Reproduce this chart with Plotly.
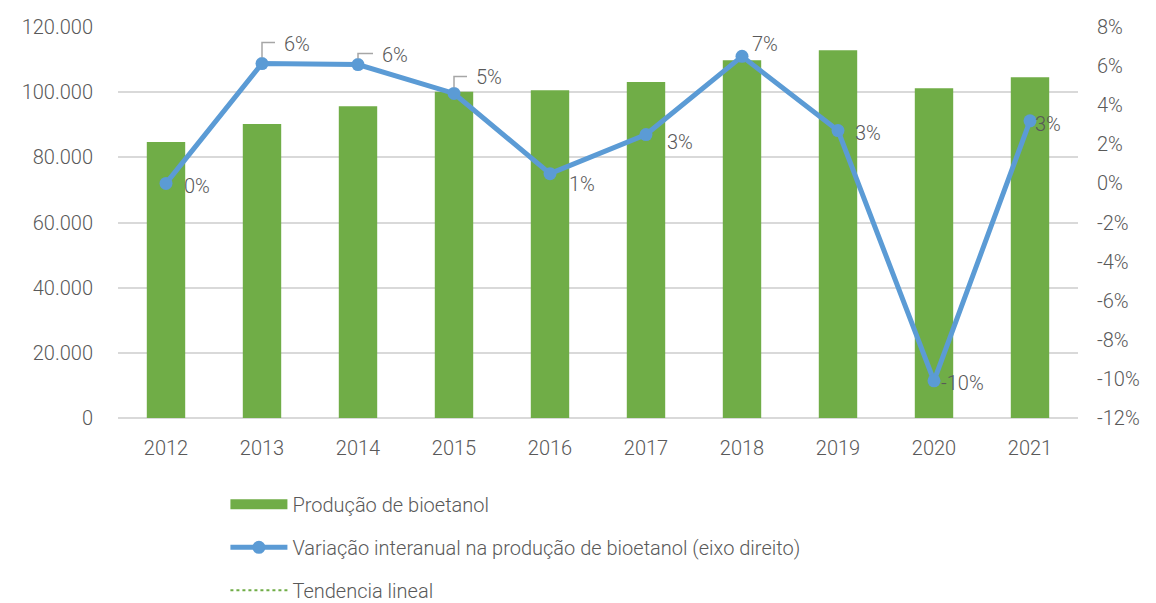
import math
import plotly.graph_objects as go

years = ["2012", "2013", "2014", "2015", "2016", "2017", "2018", "2019", "2020", "2021"]
production = [84700, 90200, 95700, 100100, 100600, 103100, 109800, 112900, 101200, 104600]
variation = [0.0, 6.13, 6.08, 4.6, 0.5, 2.5, 6.5, 2.7, -10.1, 3.2]
right_ticks = [-12, -10, -8, -6, -4, -2, 0, 2, 4, 6, 8]

# label offsets (pixels) and whether label has a leader line
label_dx = [16, 20, 22, 20, 17, 19, 8, 15, 5, 3]
label_dy = [-3, 20, 10, 16, -10, -7, 12, -2, -2, -3]
leader = [False, True, True, True, False, False, False, False, False, False]

FONT = "Roboto"
GREY = "#595959"
GREEN = "#70AD47"
BLUE = "#5B9BD5"

fig = go.Figure()
fig.add_trace(go.Bar(
    x=years, y=production, name="Produção de bioetanol",
    marker=dict(color=GREEN, line=dict(width=0)), width=0.4,
    showlegend=False, legendgroup="a",
))
# legend swatch for the bars (wide rectangle like the original)
fig.add_trace(go.Scatter(
    x=[None], y=[None], name="Produção de bioetanol", mode="lines",
    line=dict(color=GREEN, width=16), legendgroup="a",
))
fig.add_trace(go.Scatter(
    x=years, y=variation, name="Variação interanual na produção de bioetanol (eixo direito)",
    yaxis="y2", mode="lines+markers",
    line=dict(color=BLUE, width=5),
    marker=dict(color=BLUE, size=13),
    legendgroup="b",
))
fig.add_trace(go.Scatter(
    x=[None], y=[None], name="Tendencia lineal", mode="lines",
    line=dict(color=GREEN, width=2, dash="dot"),
    legendgroup="c",
))

annotations = []
shapes = []
for i, (v, dx, dy, ld) in enumerate(zip(variation, label_dx, label_dy, leader)):
    txt = f"{math.floor(v + 0.5):.0f}%"
    annotations.append(dict(
        x=i, y=v, xref="x", yref="y2", text=txt, showarrow=False,
        xanchor="left", yanchor="middle", xshift=dx, yshift=dy,
        font=dict(family=FONT, size=20, color=GREY, weight=300),
    ))
    if ld:
        shapes.append(dict(
            type="path", xref="x", yref="y2", xsizemode="pixel", ysizemode="pixel",
            xanchor=i, yanchor=v,
            path=f"M 0,6 L 0,{dy+1} L {dx-7},{dy+1}",
            line=dict(color="#A6A6A6", width=1.5),
        ))

fig.update_layout(
    width=1156, height=603,
    margin=dict(l=118, r=78, t=27, b=185, autoexpand=False),
    plot_bgcolor="white", paper_bgcolor="white",
    separators=",.",
    font=dict(family=FONT, size=19, color=GREY, weight=300),
    showlegend=True,
    legend=dict(
        orientation="v", xref="container", yref="container",
        x=0.195, y=0.196, xanchor="left", yanchor="top",
        font=dict(family=FONT, size=20, color=GREY, weight=300),
        tracegroupgap=14, traceorder="grouped", itemwidth=57,
    ),
    xaxis=dict(
        type="category", automargin=False, range=[-0.5, len(years) - 0.5],
        showgrid=False, showline=False, ticks="",
        tickfont=dict(size=20), ticklabelstandoff=16,
    ),
    yaxis=dict(
        range=[0, 120000], dtick=20000, tickformat=",d", automargin=False,
        showgrid=True, gridcolor="#D9D9D9", gridwidth=1.5,
        zeroline=True, zerolinecolor="#D9D9D9", zerolinewidth=1.5,
        showline=False, ticks="", ticklabelstandoff=24,
        tickfont=dict(size=20),
    ),
    yaxis2=dict(
        range=[-12, 8], tickmode="array", tickvals=right_ticks,
        ticktext=[f"{t}%" for t in right_ticks],
        overlaying="y", side="right", automargin=False,
        showgrid=False, zeroline=False, showline=False, ticks="",
        ticklabelstandoff=18, tickfont=dict(size=20),
    ),
    annotations=annotations,
    shapes=shapes,
)

fig.write_html("out.html", config={"displayModeBar": False},
               post_script="document.body.style.margin='0';")
